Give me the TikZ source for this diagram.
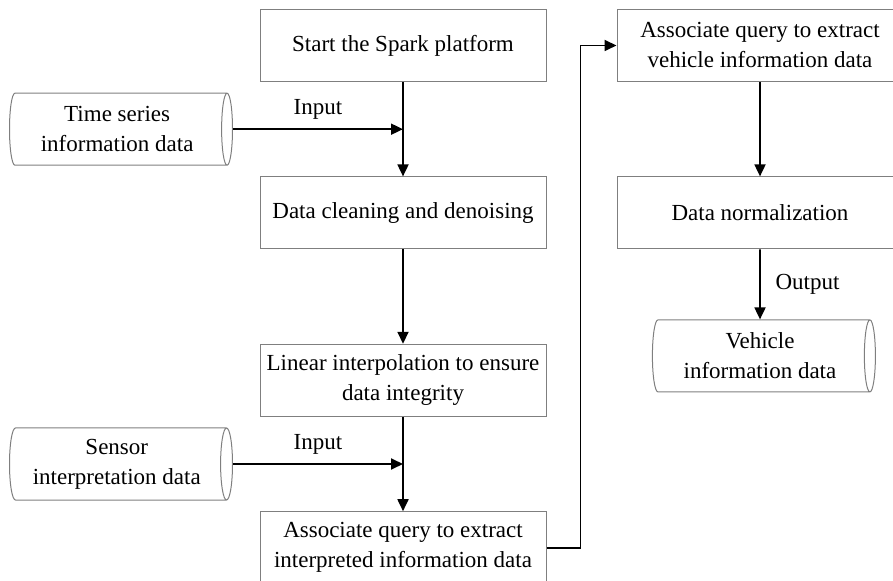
\documentclass[tikz,border=0pt]{standalone}
\usepackage{fontspec}
\setmainfont{Liberation Serif}
\usetikzlibrary{positioning, arrows.meta, shapes.geometric, calc}
\definecolor{boxborder}{HTML}{7F7F7F}
\definecolor{flowline}{HTML}{000000}

\begin{document}
\begin{tikzpicture}[
    >={Triangle[length=6pt, width=5.5pt]},
    node distance=47.2pt and 35pt,
    stepbox/.style={draw=boxborder, line width=0.5pt, minimum width=143pt, minimum height=36pt,
                    align=center, inner sep=2pt, font=\fontsize{11.5}{15}\selectfont},
    store/.style={cylinder, shape border rotate=0, aspect=0.22, draw=boxborder, line width=0.5pt,
                  minimum height=111.5pt, minimum width=36pt, align=center, inner sep=1pt,
                  font=\fontsize{11.5}{15}\selectfont},
    tag/.style={font=\fontsize{11.5}{15}\selectfont},
    arrow/.style={->, draw=flowline, line width=0.9pt},
]
\useasboundingbox (0,0) rectangle (446.5pt,-290.5pt);

% ============================================================
% Left column: preprocessing on Spark
% ============================================================
\node[stepbox] (start) at (201.5pt,-22.75pt) {Start the Spark platform};
\node[stepbox, below=of start] (clean) {Data cleaning and denoising};
\node[stepbox, below=of clean] (interp) {Linear interpolation to ensure\\data integrity};
\node[stepbox, below=of interp] (assoc) {Associate query to extract\\interpreted information data};

\draw[arrow] (start) -- (clean);
\draw[arrow] (clean) -- (interp);
\draw[arrow] (interp) -- (assoc);

% inputs join the main line between two steps
\coordinate (in1) at ($(start.south)!0.5!(clean.north)$);
\coordinate (in2) at ($(interp.south)!0.5!(assoc.north)$);

\node[store, left=85pt of in1] (tsdata) {Time series\\information data};
\node[store, left=85pt of in2] (sensor) {Sensor\\interpretation data};

\draw[arrow] (tsdata.east) -- (in1) node[tag, midway, above=1pt] (input1) {Input};
\draw[arrow] (sensor.east) -- (in2) node[tag, midway, above=1pt] (input2) {Input};

% ============================================================
% Right column: vehicle data
% ============================================================
\node[stepbox, right=of start] (query) {Associate query to extract\\vehicle information data};
\node[stepbox, below=of query] (norm) {Data normalization};
\node[store, below=35pt of norm] (vehicle) {Vehicle\\information data};

\draw[arrow] (query) -- (norm);
\draw[arrow] (norm) -- (vehicle) node[tag, midway, right=4pt] (output) {Output};

% hand-over from the left column to the right one
\draw[arrow] (assoc.east) -- ++(17pt,0) |- (query.west);

\end{tikzpicture}
\end{document}
